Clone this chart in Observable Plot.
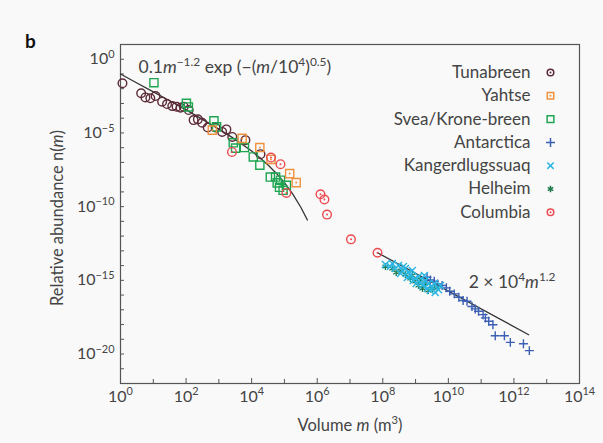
<!DOCTYPE html>
<html><head><meta charset="utf-8">
<script src="https://cdn.jsdelivr.net/npm/d3@7"></script>
<script src="https://cdn.jsdelivr.net/npm/@observablehq/plot@0.6"></script>
<style>
html,body{margin:0;padding:0;background:#f9f9f9;}
</style></head>
<body>
<div id="chart"></div>
<script>
// ---- data (log10 of volume m and of relative abundance n) ----
const tunabreenLogM = [0.06,0.63,0.76,0.91,1.07,1.27,1.42,1.58,1.71,1.83,1.93,2.08,2.23,2.36,2.49,2.66,2.90,3.10,3.23,3.41,3.81,4.27];
const tunabreenLogN = [-1.63,-2.31,-2.59,-2.65,-2.50,-2.88,-3.04,-3.18,-3.22,-3.29,-3.22,-3.45,-4.13,-4.08,-4.31,-4.63,-4.63,-4.93,-4.76,-5.27,-5.49,-6.44];
const yahtseLogM = [2.80,3.71,4.25,4.59,5.16,5.36];
const yahtseLogN = [-4.81,-5.37,-5.99,-6.80,-7.76,-8.37];
const sveaLogM = [1.02,2.01,2.07,2.85,2.93,3.44,3.51,3.78,4.05,4.25,4.57,4.73,4.88,4.78,5.06,4.96,4.85];
const sveaLogN = [-1.59,-2.99,-3.24,-4.18,-4.59,-5.67,-6.03,-5.99,-6.63,-7.19,-7.99,-7.99,-8.21,-8.39,-8.55,-8.89,-8.69];
const antarcticaLogM = [9.35,9.45,9.57,9.67,9.81,9.94,10.04,10.18,10.32,10.45,10.57,10.72,10.82,10.92,11.06,11.13,11.23,11.36,11.43,11.71,11.89,12.29,12.47];
const antarcticaLogN = [-14.79,-14.97,-15.06,-15.24,-15.35,-15.51,-15.74,-15.92,-16.15,-16.37,-16.42,-16.78,-16.94,-17.10,-17.33,-17.55,-17.78,-18.01,-18.76,-18.76,-19.21,-19.30,-19.77];
const kangerLogM = [8.08,8.23,8.38,8.48,8.60,8.69,8.78,8.84,8.90,8.99,9.09,9.15,9.21,9.30,9.36,9.45,9.51,9.60,9.70,9.76,9.02,8.93,9.27,9.39,9.57,8.75,8.54,8.29,8.63];
const kangerLogN = [-13.93,-14.06,-14.20,-13.99,-14.33,-14.20,-14.47,-14.67,-14.33,-14.88,-14.74,-15.15,-15.35,-15.01,-15.56,-15.69,-15.42,-15.83,-15.63,-15.35,-15.22,-15.01,-14.67,-15.22,-15.22,-14.81,-14.54,-13.86,-14.06];
const helheimLogM = [8.08,8.29,8.54,8.69,8.84,8.99,9.09,9.21,9.39,9.51,9.66,8.90,9.30,8.41,9.15];
const helheimLogN = [-14.06,-14.20,-14.33,-14.61,-14.88,-15.08,-15.35,-15.56,-15.69,-15.56,-15.49,-14.67,-15.22,-14.47,-14.95];
const columbiaLogM = [3.40,4.59,4.88,5.06,6.10,6.22,6.30,7.03,7.84];
const columbiaLogN = [-6.29,-6.67,-7.12,-9.07,-9.16,-9.52,-10.54,-12.22,-13.13];
// fitted curves
const fit1LogM = [0,0.5,1,1.5,2,2.5,3,3.5,4,4.25,4.5,4.75,5,5.25,5.5,5.7];
const fit1LogN = [-1.00,-1.61,-2.21,-2.82,-3.44,-4.08,-4.74,-5.44,-6.23,-6.68,-7.17,-7.73,-8.37,-9.13,-10.04,-10.91];
const fit2LogM = [7.84,12.45];
const fit2LogN = [-13.13,-18.69];
// ticks
const xTickExp = [0,2,4,6,8,10,12,14];
const xMinorExp = [1,3,5,7,9,11,13];
const yTickExp = [0,-5,-10,-15,-20];
const yMinorExp = d3.range(0,-22,-1);
const legendNames = ["Tunabreen","Yahtse","Svea/Krone-breen","Antarctica","Kangerdlugssuaq","Helheim","Columbia"];
const legendColors = ["#5c2a36","#f0913d","#1fa552","#3b5fb3","#2ab6e3","#1b7a4c","#ec4a50"];

const pts = (lm, ln) => lm.map((l,i) => ({m: 10**l, n: 10**ln[i]}));
const tuna = pts(tunabreenLogM, tunabreenLogN), yah = pts(yahtseLogM, yahtseLogN),
      svea = pts(sveaLogM, sveaLogN), ant = pts(antarcticaLogM, antarcticaLogN),
      kang = pts(kangerLogM, kangerLogN), hel = pts(helheimLogM, helheimLogN),
      col = pts(columbiaLogM, columbiaLogN), fit1 = pts(fit1LogM, fit1LogN), fit2 = pts(fit2LogM, fit2LogN);
const C = Object.fromEntries(legendNames.map((n,i)=>[n, legendColors[i]]));
const expFmt = d => `10^{${String(Math.round(Math.log10(d))).replace("-","−")}}`;
const tickCol = "#444";

const legendSymbols = ["circle","square","square","plus","times","asterisk","circle"];
const legendR = [3.3,3.6,3.8,3.0,3.0,3.0,3.3];
const legendDot = [true,true,false,false,false,false,true];
const legendMarks = legendNames.flatMap((name,i) => {
  const dy = 28 + i*23.3;
  const ms = [
    Plot.text([name], {text: d=>d, frameAnchor:"top-right", dx:-49, dy, textAnchor:"end", lineAnchor:"middle", fontSize:17, fill:tickCol}),
    Plot.dot([name], {frameAnchor:"top-right", dx:-29, dy, symbol: legendSymbols[i], r: legendR[i], stroke: legendColors[i], strokeWidth:1.5, fill:"none"})
  ];
  if (legendDot[i]) ms.push(Plot.dot([name], {frameAnchor:"top-right", dx:-29, dy, r:1, fill: legendColors[i], stroke:"none"}));
  return ms;
});

const plot = Plot.plot({
  width: 603, height: 443,
  marginLeft: 120, marginRight: 24, marginTop: 44, marginBottom: 60,
  style: {background: "#f9f9f9", fontFamily: "Lato, 'Open Sans', sans-serif", fontSize: "16px", color: tickCol},
  x: {type: "log", domain: [1, 1e14]},
  y: {type: "log", domain: [1e-22, 10]},
  marks: [
    Plot.frame({stroke: "#555", strokeWidth: 1.2}),
    Plot.axisX({ticks: xTickExp.map(e=>10**e), tickFormat: expFmt, tickSize: -5, tickPadding: 12, label: null, fontSize: 16, stroke:"#555"}),
    Plot.axisX({ticks: xMinorExp.map(e=>10**e), tickFormat: () => "", tickSize: -4, label: null, stroke:"#555"}),
    Plot.axisY({ticks: yTickExp.map(e=>10**e), tickFormat: expFmt, tickSize: 0, tickPadding: 6, label: null, fontSize: 16}),
    Plot.axisY({ticks: yMinorExp.map(e=>10**e), tickFormat: () => "", tickSize: -4, label: null, stroke:"#555"}),
    Plot.line(fit1, {x:"m", y:"n", stroke:"#333", strokeWidth:1.3}),
    Plot.line(fit2, {x:"m", y:"n", stroke:"#333", strokeWidth:1.3}),
    Plot.dot(tuna, {x:"m", y:"n", r:4.3, stroke:C["Tunabreen"], strokeWidth:1.4, fill:"none"}),
    Plot.dot(svea, {x:"m", y:"n", symbol:"square", r:4.6, stroke:C["Svea/Krone-breen"], strokeWidth:1.4, fill:"none"}),
    Plot.dot(yah, {x:"m", y:"n", symbol:"square", r:4.6, stroke:C["Yahtse"], strokeWidth:1.4, fill:"none"}),
    Plot.dot(yah, {x:"m", y:"n", r:1, fill:C["Yahtse"]}),
    Plot.dot(col, {x:"m", y:"n", r:4.3, stroke:C["Columbia"], strokeWidth:1.4, fill:"none"}),
    Plot.dot(col, {x:"m", y:"n", r:1, fill:C["Columbia"]}),
    Plot.dot(ant, {x:"m", y:"n", symbol:"plus", r:3.0, stroke:C["Antarctica"], strokeWidth:1.4}),
    Plot.dot(hel, {x:"m", y:"n", symbol:"asterisk", r:3.2, stroke:C["Helheim"], strokeWidth:1.3}),
    Plot.dot(kang, {x:"m", y:"n", symbol:"times", r:3.3, stroke:C["Kangerdlugssuaq"], strokeWidth:1.4}),
    Plot.text(["0.1*m*^{−1.2} exp (−(*m*/10^{4})^{0.5})"], {text:d=>d, frameAnchor:"top-left", dx:18, dy:23, textAnchor:"start", lineAnchor:"middle", fontSize:17.5, fill:tickCol}),
    Plot.text(["2 × 10^{4}*m*^{1.2}"], {text:d=>d, frameAnchor:"top-right", dx:-24, dy:238, textAnchor:"end", lineAnchor:"middle", fontSize:17.5, fill:tickCol}),
    Plot.text(["Volume *m* (m^{3})"], {text:d=>d, frameAnchor:"bottom", dy:42, textAnchor:"middle", lineAnchor:"middle", fontSize:16.5, fill:tickCol}),
    Plot.text(["Relative abundance n(*m*)"], {text:d=>d, frameAnchor:"left", dx:-63, dy:4, rotate:-90, textAnchor:"middle", lineAnchor:"middle", fontSize:16.5, fill:tickCol}),
    Plot.text(["b"], {text:d=>d, frameAnchor:"top-left", dx:-90, dy:-3, textAnchor:"middle", lineAnchor:"middle", fontSize:19, fontWeight:"bold", fill:"#111"}),
    ...legendMarks
  ]
});
document.getElementById("chart").appendChild(plot);

// rich text: ^{...} superscript, *...* italic
const NS = "http://www.w3.org/2000/svg";
plot.querySelectorAll("text").forEach(el => {
  const s = el.textContent;
  if (!/\^\{|\*/.test(s)) return;
  const fs = parseFloat(getComputedStyle(el).fontSize) || 16;
  el.textContent = "";
  const re = /\^\{([^}]*)\}|\*([^*]*)\*|([^^*]+)/g;
  let m, shift = 0;
  while ((m = re.exec(s))) {
    const t = document.createElementNS(NS, "tspan");
    if (m[1] !== undefined) {
      t.textContent = m[1];
      t.setAttribute("font-size", (fs*0.68).toFixed(1));
      const d = -fs*0.4;
      t.setAttribute("dy", (d - shift).toFixed(2));
      shift = d;
    } else {
      t.textContent = m[2] !== undefined ? m[2] : m[3];
      if (m[2] !== undefined) t.setAttribute("font-style", "italic");
      if (shift) { t.setAttribute("dy", (-shift).toFixed(2)); shift = 0; }
    }
    el.appendChild(t);
  }
});
</script>
</body></html>
